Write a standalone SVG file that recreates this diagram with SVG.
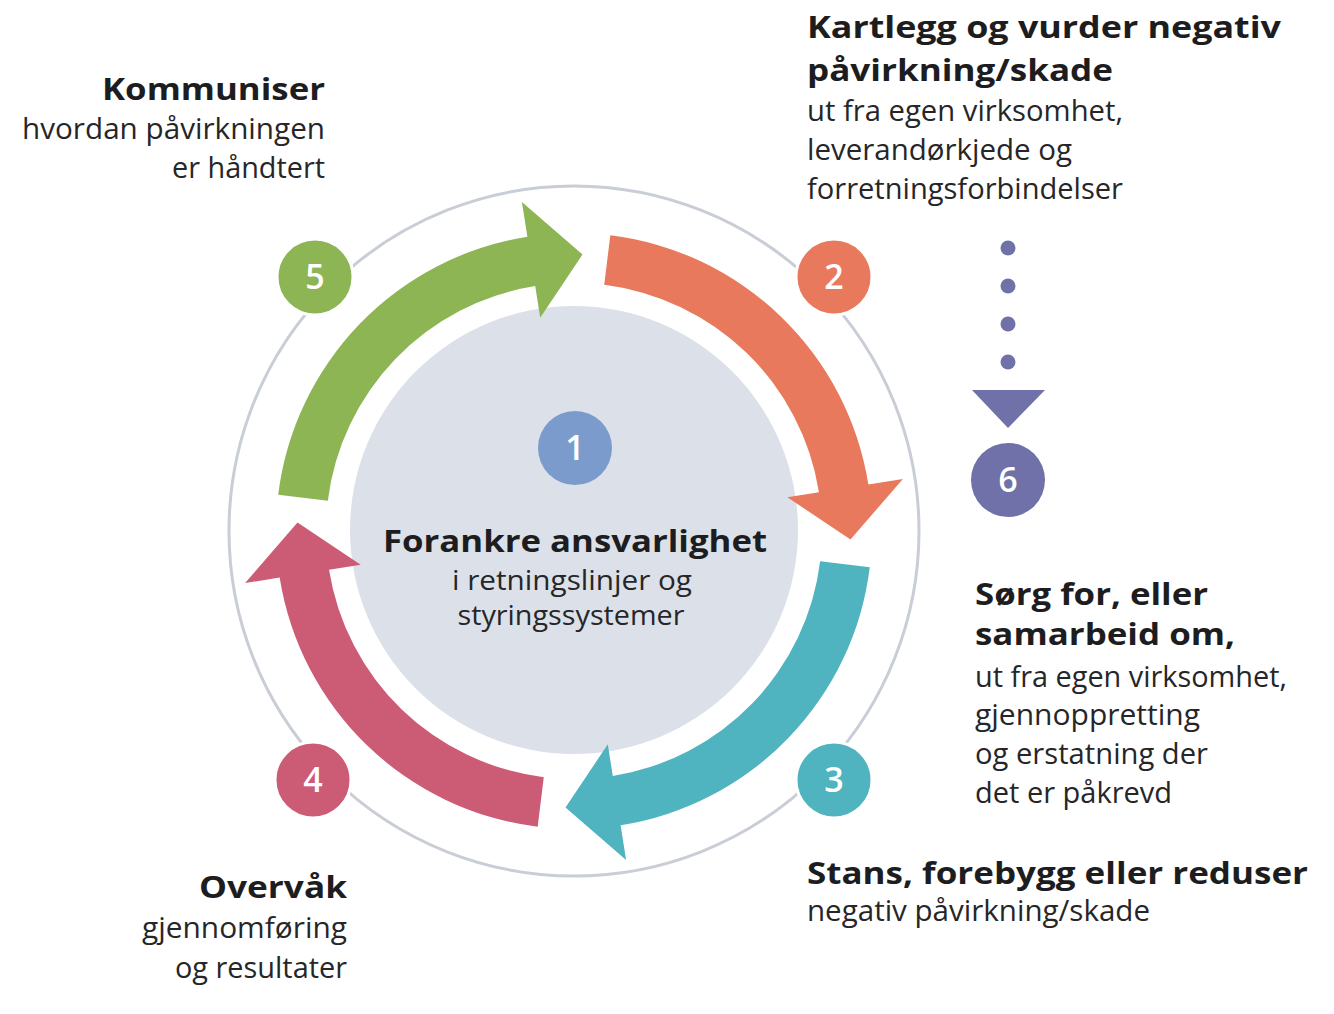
<svg xmlns="http://www.w3.org/2000/svg" xmlns:xlink="http://www.w3.org/1999/xlink" width="1334" height="1014" viewBox="0 0 1334 1014">
<style>
text { font-family: "Open Sans", "Noto Sans", "Liberation Sans", sans-serif; fill: #1d1d1f; }
.h { font-weight: 700; font-size: 31px; }
.b { font-weight: 400; font-size: 29px; fill: #262628; }
.c { font-weight: 400; font-size: 27px; fill: #262628; }
.end { text-anchor: end; }
.mid { text-anchor: middle; }
.num { font-weight: 600; font-size: 34px; fill: #ffffff; text-anchor: middle; }
.badge { stroke: #ffffff; stroke-width: 3; }
</style>
<defs>
<path id="arrow" d="M 36.32,-295.78 A 298 298 0 0 1 294.33,-46.62 L 328.90,-52.09 L 276.5,8.5 L 213.34,-33.79 L 244.95,-38.79 A 248 248 0 0 0 30.22,-246.15 Z"/>
</defs>
<rect width="1334" height="1014" fill="#ffffff"/>

<g id="ring">
<circle cx="574" cy="531" r="345" fill="none" stroke="#c9cdd6" stroke-width="3"/>
</g>

<g id="node1">
<circle cx="574" cy="530" r="224" fill="#dce1e9"/>
<circle cx="575" cy="448" r="37" fill="#7b9bcd"/>
<text class="num" x="575" y="460">1</text>
<text class="h mid" x="575" y="552" textLength="384" lengthAdjust="spacingAndGlyphs">Forankre ansvarlighet</text>
<text class="c mid" x="572" y="590" textLength="240" lengthAdjust="spacingAndGlyphs">i retningslinjer og</text>
<text class="c mid" x="571" y="625" textLength="227" lengthAdjust="spacingAndGlyphs">styringssystemer</text>
</g>

<g id="connectors">
<use xlink:href="#arrow" href="#arrow" transform="translate(574 531)" fill="#e9795c"/>
<use xlink:href="#arrow" href="#arrow" transform="translate(574 531) rotate(90)" fill="#4fb4c0"/>
<use xlink:href="#arrow" href="#arrow" transform="translate(574 531) rotate(180)" fill="#cc5b75"/>
<use xlink:href="#arrow" href="#arrow" transform="translate(574 531) rotate(270)" fill="#8db554"/>
</g>

<g id="node2">
<circle class="badge" cx="834" cy="277" r="38" fill="#e9795c"/>
<text class="num" x="834" y="289">2</text>
<text class="h" x="807" y="38" textLength="474" lengthAdjust="spacingAndGlyphs">Kartlegg og vurder negativ</text>
<text class="h" x="807" y="81" textLength="306" lengthAdjust="spacingAndGlyphs">påvirkning/skade</text>
<text class="b" x="807" y="121" textLength="316" lengthAdjust="spacingAndGlyphs">ut fra egen virksomhet,</text>
<text class="b" x="807" y="160" textLength="265" lengthAdjust="spacingAndGlyphs">leverandørkjede og</text>
<text class="b" x="807" y="199" textLength="316" lengthAdjust="spacingAndGlyphs">forretningsforbindelser</text>
</g>

<g id="node3">
<circle class="badge" cx="834" cy="780" r="38" fill="#4fb4c0"/>
<text class="num" x="834" y="792">3</text>
<text class="h" x="807" y="884" textLength="501" lengthAdjust="spacingAndGlyphs">Stans, forebygg eller reduser</text>
<text class="b" x="807" y="921" textLength="343" lengthAdjust="spacingAndGlyphs">negativ påvirkning/skade</text>
</g>

<g id="node4">
<circle class="badge" cx="313" cy="780" r="38" fill="#cc5b75"/>
<text class="num" x="313" y="792">4</text>
<text class="h end" x="347" y="898" textLength="148" lengthAdjust="spacingAndGlyphs">Overvåk</text>
<text class="b end" x="347" y="938" textLength="205" lengthAdjust="spacingAndGlyphs">gjennomføring</text>
<text class="b end" x="347" y="978" textLength="172" lengthAdjust="spacingAndGlyphs">og resultater</text>
</g>

<g id="node5">
<circle class="badge" cx="315" cy="277" r="38" fill="#8db554"/>
<text class="num" x="315" y="289">5</text>
<text class="h end" x="325" y="100" textLength="223" lengthAdjust="spacingAndGlyphs">Kommuniser</text>
<text class="b end" x="325" y="139" textLength="303" lengthAdjust="spacingAndGlyphs">hvordan påvirkningen</text>
<text class="b end" x="325" y="178" textLength="153" lengthAdjust="spacingAndGlyphs">er håndtert</text>
</g>

<g id="node6">
<circle cx="1008" cy="248" r="7.5" fill="#6f71a8"/>
<circle cx="1008" cy="286" r="7.5" fill="#6f71a8"/>
<circle cx="1008" cy="324" r="7.5" fill="#6f71a8"/>
<circle cx="1008" cy="362" r="7.5" fill="#6f71a8"/>
<polygon points="972,390 1045,390 1008,428" fill="#6f71a8"/>
<circle cx="1008" cy="480" r="37" fill="#6f71a8"/>
<text class="num" x="1008" y="492">6</text>
<text class="h" x="975" y="605" textLength="233" lengthAdjust="spacingAndGlyphs">Sørg for, eller</text>
<text class="h" x="975" y="645" textLength="260" lengthAdjust="spacingAndGlyphs">samarbeid om,</text>
<text class="b" x="975" y="687" textLength="312" lengthAdjust="spacingAndGlyphs">ut fra egen virksomhet,</text>
<text class="b" x="975" y="725" textLength="225" lengthAdjust="spacingAndGlyphs">gjennoppretting</text>
<text class="b" x="975" y="764" textLength="233" lengthAdjust="spacingAndGlyphs">og erstatning der</text>
<text class="b" x="975" y="803" textLength="197" lengthAdjust="spacingAndGlyphs">det er påkrevd</text>
</g>
</svg>
